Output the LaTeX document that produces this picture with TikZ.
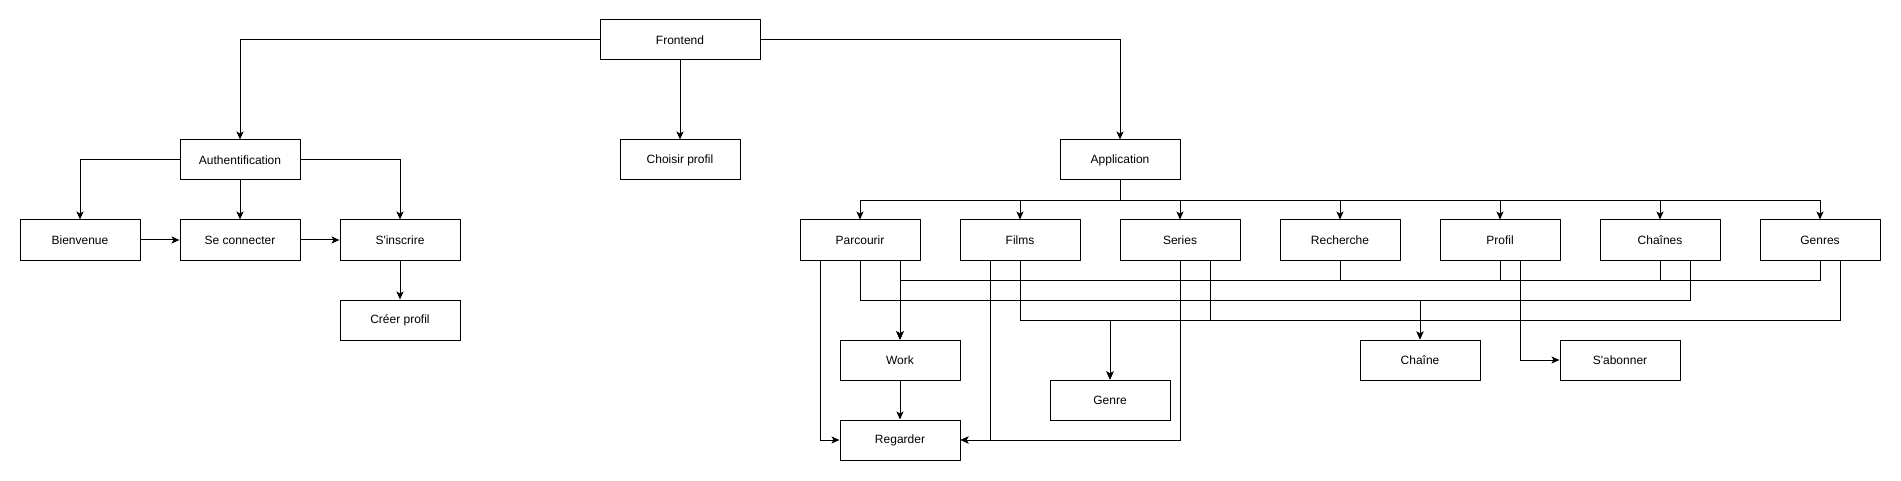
\documentclass[tikz,border=0pt]{standalone}
\usepackage{fontspec}
\setmainfont{Liberation Sans}[Ligatures=TeXOff]
\usepackage{tikz}
\usetikzlibrary{arrows.meta}

\begin{document}
\begin{tikzpicture}[x=1pt, y=1pt, node distance={160pt}, line width=1pt, >={Stealth[length=8pt,width=7pt,inset=2pt]},
    main/.style = {draw, rectangle, minimum width=120pt, minimum height=40pt, inner sep=0pt, font=\fontsize{12}{14}\selectfont}]
    \useasboundingbox (0,0) rectangle (1901,-481);

    \node[main, minimum width=160pt] (1) at (680,-40) {Frontend};
    \node[main] (2)  at (240,-160)             {Authentification};
    \node[main] (3)  at (680,-160)             {Choisir profil};
    \node[main] (4)  at (1120,-160)            {Application};
    \node[main] (5)  at (80,-240)              {Bienvenue};
    \node[main] (6)  [right of=5]              {Se connecter};
    \node[main] (7)  [right of=6]              {S'inscrire};
    \node[main] (8)  [below of=7, node distance=80pt] {Créer profil};
    \node[main] (9)  at (860,-240)             {Parcourir};
    \node[main] (10) [right of=9]              {Films};
    \node[main] (11) [right of=10]             {Series};
    \node[main] (12) [right of=11]             {Recherche};
    \node[main] (13) [right of=12]             {Profil};
    \node[main] (14) [right of=13]             {Chaînes};
    \node[main] (15) [right of=14]             {Genres};
    \node[main] (16) at (900,-360)             {Work};
    \node[main] (17) [below of=16, node distance=80pt] {Regarder};
    \node[main] (18) at (1110,-400)            {Genre};
    \node[main] (19) at (1420,-360)            {Chaîne};
    \node[main] (20) at (1620,-360)            {S'abonner};

    \draw[->] (1.west) -| (2.north);
    \draw[->] (1.south) -- (3.north);
    \draw[->] (1.east) -| (4.north);

    \draw[->] (2.west) -| (5.north);
    \draw[->] (2.south) -- (6.north);
    \draw[->] (2.east) -| (7.north);
    \draw[->] (5) -- (6);
    \draw[->] (6) -- (7);
    \draw[->] (7) -- (8);

    \draw[->] (4.south) -- ++(0,-20) -| (9.north);
    \draw[->] (4.south) -- ++(0,-20) -| (10.north);
    \draw[->] (4.south) -- ++(0,-20) -| (11.north);
    \draw[->] (4.south) -- ++(0,-20) -| (12.north);
    \draw[->] (4.south) -- ++(0,-20) -| (13.north);
    \draw[->] (4.south) -- ++(0,-20) -| (14.north);
    \draw[->] (4.south) -- ++(0,-20) -| (15.north);

    \draw[->] ([xshift=-40pt]9.south) |- (17.west);
    \draw[->] (9.south) -- ++(0,-40) -| (19.north);
    \draw[->] ([xshift=40pt]9.south) -- (16.north);

    \draw[->] ([xshift=-30pt]10.south) |- (17.east);
    \draw[->] (10.south) -- ++(0,-60) -| (18.north);

    \draw[->] (11.south) |- (17.east);
    \draw[->] ([xshift=30pt]11.south) -- ++(0,-60) -| (18.north);

    \draw[->] (12.south) -- ++(0,-20) -| (16.north);

    \draw[->] (13.south) -- ++(0,-20) -| (16.north);
    \draw[->] ([xshift=20pt]13.south) |- (20.west);

    \draw[->] (14.south) -- ++(0,-20) -| (16.north);
    \draw[->] ([xshift=30pt]14.south) -- ++(0,-40) -| (19.north);

    \draw[->] (15.south) -- ++(0,-20) -| (16.north);
    \draw[->] ([xshift=20pt]15.south) -- ++(0,-60) -| (18.north);

    \draw[->] (16) -- (17);

\end{tikzpicture}
\end{document}
